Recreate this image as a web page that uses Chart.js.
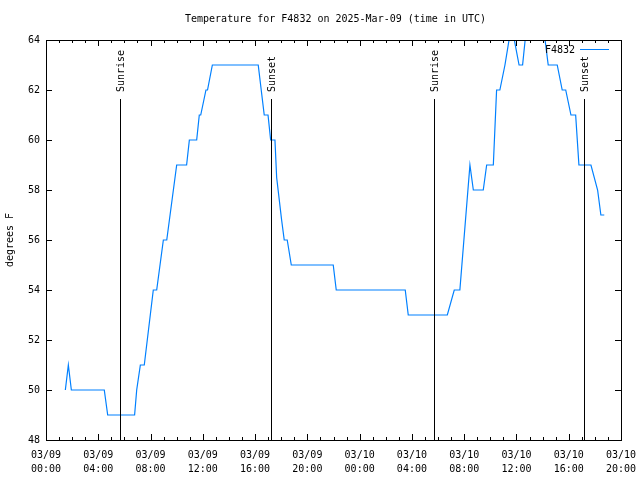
<!DOCTYPE html>
<html>
<head>
<meta charset="utf-8">
<script src="https://cdn.jsdelivr.net/npm/chart.js@4.4.1/dist/chart.umd.min.js"></script>
<style>
html, body { margin: 0; padding: 0; background: #fff; }
</style>
</head>
<body>
<canvas id="chart" width="640" height="480"></canvas>
<script>
'use strict';

const chart_title = 'Temperature for F4832 on 2025-Mar-09 (time in UTC)';
const series_name = 'F4832';
const y_title = 'degrees F';

// hours since 03/09 00:00 UTC, and temperature read at each corner of the trace
const hours = [1.48, 1.71, 1.94, 4.46, 4.72, 6.78, 6.94, 7.22, 7.52, 8.21, 8.47, 8.98, 9.24, 10.0, 10.76,
    10.97, 11.53, 11.73, 11.84, 12.24, 12.36, 12.73, 16.24, 16.7, 16.99, 17.19, 17.52, 17.65, 18.03, 18.23,
    18.46, 18.77, 21.98, 22.21, 27.49, 27.72, 30.71, 31.24, 31.67, 32.44, 32.7, 33.46, 33.72, 34.23, 34.48,
    34.73, 35.12, 35.62, 36.2, 36.47, 36.9, 37.9, 38.43, 39.12, 39.5, 39.77, 40.17, 40.53, 40.78, 41.7,
    42.21, 42.46, 42.72];
const temps = [50, 51, 50, 50, 49, 49, 50, 51, 51, 54, 54, 56, 56, 59, 59,
    60, 60, 61, 61, 62, 62, 63, 63, 61, 61, 60, 60, 58.5, 56.8, 56,
    56, 55, 55, 54, 54, 53, 53, 54, 54, 59, 58, 58, 59, 59, 62,
    62, 63, 64.6, 63, 63, 65.2, 65.2, 63, 63, 62, 62, 61, 61, 59, 59,
    58, 57, 57];

const tick_dates = ['03/09', '03/09', '03/09', '03/09', '03/09', '03/09', '03/10', '03/10', '03/10', '03/10', '03/10', '03/10'];
const tick_times = ['00:00', '04:00', '08:00', '12:00', '16:00', '20:00', '00:00', '04:00', '08:00', '12:00', '16:00', '20:00'];

const sun_hours = [5.66, 17.19, 29.69, 41.17];
const sun_names = ['Sunrise', 'Sunset', 'Sunrise', 'Sunset'];

const line_color = '#0080ff';
const font_family = '"DejaVu Sans Mono", "Liberation Mono", monospace';

var points = [];
for( var i = 0 ; i < hours.length ; i++ ){
    points.push({ x: hours[i], y: temps[i] });
}

// gnuplot style frame: box, inward ticks, sun markers, title and key
const frame_plugin = {
    id: 'gnuplot_frame',
    afterDatasetsDraw: function(chart){
        const ctx = chart.ctx;
        const area = chart.chartArea;
        const xs = chart.scales.x;
        const ys = chart.scales.y;
        ctx.save();
        ctx.strokeStyle = '#000';
        ctx.lineWidth = 1;

        // sunrise / sunset
        const line_top = area.top + 59;
        ctx.font = '10px ' + font_family;
        ctx.fillStyle = '#000';
        for( var i = 0 ; i < sun_hours.length ; i++ ){
            var x = Math.round(xs.getPixelForValue(sun_hours[i])) + 0.5;
            ctx.beginPath();
            ctx.moveTo(x, area.bottom);
            ctx.lineTo(x, line_top);
            ctx.stroke();
            ctx.save();
            ctx.translate(x + 1, line_top - 7);
            ctx.rotate(-Math.PI / 2);
            ctx.textAlign = 'left';
            ctx.textBaseline = 'middle';
            ctx.fillText(sun_names[i], 0, 0);
            ctx.restore();
        }

        // box
        ctx.strokeRect(area.left + 0.5, area.top + 0.5, area.right - area.left, area.bottom - area.top);

        // x ticks every hour, longer at labels
        ctx.beginPath();
        for( var h = xs.min ; h <= xs.max ; h++ ){
            var px = Math.round(xs.getPixelForValue(h)) + 0.5;
            var len = (h % 4 == 0) ? 6 : 3;
            ctx.moveTo(px, area.bottom);
            ctx.lineTo(px, area.bottom - len);
            ctx.moveTo(px, area.top);
            ctx.lineTo(px, area.top + len);
        }
        // y ticks
        for( var v = ys.min ; v <= ys.max ; v += 2 ){
            var py = Math.round(ys.getPixelForValue(v)) + 0.5;
            ctx.moveTo(area.left, py);
            ctx.lineTo(area.left + 6, py);
            ctx.moveTo(area.right, py);
            ctx.lineTo(area.right - 6, py);
        }
        ctx.stroke();

        // key
        ctx.textAlign = 'right';
        ctx.textBaseline = 'middle';
        ctx.fillText(series_name, area.right - 46, area.top + 10);
        ctx.strokeStyle = line_color;
        ctx.beginPath();
        ctx.moveTo(area.right - 41, area.top + 9.5);
        ctx.lineTo(area.right - 12, area.top + 9.5);
        ctx.stroke();

        // title
        ctx.textAlign = 'center';
        ctx.fillText(chart_title, (area.left + area.right) / 2 + 2, 19);
        ctx.restore();
    }
};

const ctx = document.getElementById('chart').getContext('2d');
window.chart = new Chart(ctx, {
    type: 'line',
    data: {
        datasets: [{
            label: series_name,
            data: points,
            borderColor: line_color,
            backgroundColor: line_color,
            borderWidth: 1.2,
            pointRadius: 0,
            tension: 0,
            fill: false,
        }],
    },
    options: {
        responsive: false,
        animation: false,
        layout: {
            padding: { top: 40, right: 19, left: 0, bottom: 0 },
        },
        plugins: {
            legend: { display: false },
            tooltip: { enabled: false },
        },
        scales: {
            x: {
                type: 'linear',
                min: 0,
                max: 44,
                grid: { display: false, drawTicks: false },
                border: { display: false },
                ticks: {
                    stepSize: 4,
                    autoSkip: false,
                    maxRotation: 0,
                    padding: 8,
                    color: '#000',
                    font: { family: font_family, size: 10, lineHeight: 1.45 },
                    callback: function(value, index){
                        return [tick_dates[index], tick_times[index]];
                    },
                },
                afterFit: function(scale){
                    scale.height = 40;
                    scale.paddingLeft = 0;
                    scale.paddingRight = 0;
                },
            },
            y: {
                min: 48,
                max: 64,
                grid: { display: false, drawTicks: false },
                border: { display: false },
                ticks: {
                    stepSize: 2,
                    padding: 6,
                    color: '#000',
                    font: { family: font_family, size: 10 },
                },
                title: {
                    display: true,
                    text: y_title,
                    color: '#000',
                    font: { family: font_family, size: 10 },
                    padding: { top: 4, bottom: 4 },
                },
                afterFit: function(scale){ scale.width = 46; },
            },
        },
    },
    plugins: [frame_plugin],
});
</script>
</body>
</html>
